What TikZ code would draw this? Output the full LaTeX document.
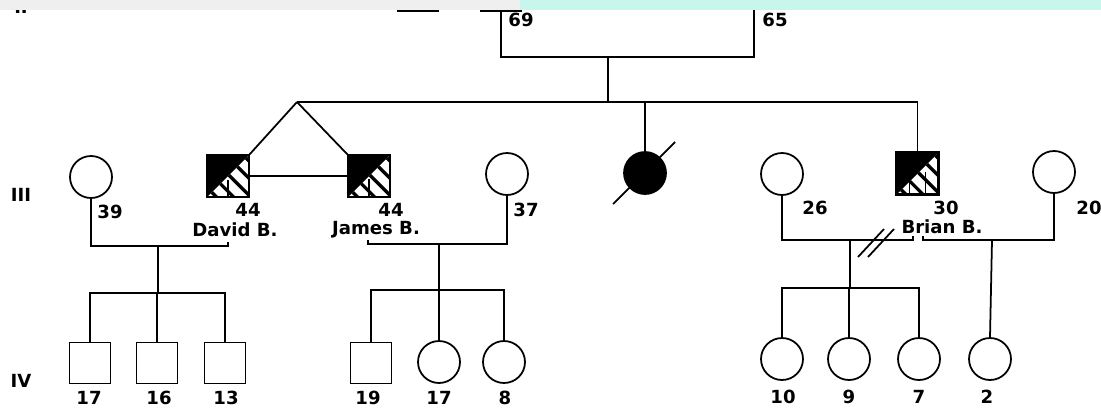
\documentclass[tikz,border=0pt]{standalone}
\usepackage{fontspec}
\setmainfont{DejaVu Sans}
\usetikzlibrary{calc}

\definecolor{bandgray}{RGB}{239,239,239}
\definecolor{bandcyan}{RGB}{200,245,236}

\tikzset{
  male/.style={draw, rectangle, minimum size=0.82cm, inner sep=0pt, line width=1pt},
  female/.style={draw, circle, minimum size=0.84cm, inner sep=0pt, line width=1pt},
  dead/.style={female, fill=black},
  age/.style={inner sep=0pt, font=\fontsize{10.3}{12}\selectfont\bfseries},
  gen/.style={inner sep=0pt, font=\fontsize{10.3}{12}\selectfont\bfseries},
  kin/.style={line width=1pt},
}

% half black, half hatched square (affected male)
\newcommand{\halfshade}[1]{%
  \fill (#1.north west) -- (#1.north east) -- (#1.south west) -- cycle;
  \begin{scope}
    \clip (#1.north east) -- (#1.south east) -- (#1.south west) -- cycle;
    \foreach \t in {0.12,0.32,0.52,0.72,0.92}
      \draw[line width=1.9pt] ($(#1.south west)!\t!(#1.north east)$) -- ++(40,40);
  \end{scope}
  \draw[line width=1pt] (#1.north west) rectangle (#1.south east);
}

\begin{document}
\begin{tikzpicture}[x=0.02cm,y=-0.02cm]
\useasboundingbox (0,0) rectangle (1101,409);
\clip (0,0) rectangle (1101,409);


%generation II (mostly cut off at the top)
\node[gen] (genII) at (21,7) {II};
\node[male] (sib2) at (418,-9.5) {};
\node[male] (p69) at (501,-9.5) {};
\coordinate (p65) at (754,0);
\node[age] (a69) at (521,20) {69};
\node[age] (a65) at (775,20) {65};

\coordinate (m2) at (608,57); %middle of marriage line
\draw[kin] (p69.south) |- (m2) -| (p65);


%generation III
\node[gen] (genIII) at (21,195) {III};

\node[female] (w39) at (91,177) {};
\node[male] (david) at (228,176) {};
\node[male] (james) at (369,176) {};
\node[female] (w37) at (507,174) {};
\node[dead] (dec) at (645,173) {};
\node[female] (w26) at (782,174) {};
\node[male] (brian) at (917.5,173.5) {};
\node[female] (w20) at (1054,172) {};

\halfshade{david}
\halfshade{james}
\halfshade{brian}

%sibship line with the twins
\coordinate (apex) at (297,102);
\draw[kin] (m2) -- (m2 |- apex);
\draw[kin] (apex) -| (brian.north);
\draw[kin] (dec.north |- apex) -- (dec.north);
\draw[kin] (apex) -- (david.north east);
\draw[kin] (apex) -- (james.north west);
\draw[kin] (david.east) -- (james.west); %twin bar

\draw[kin] (613,204) -- (675,142); %deceased

\node[age] (a39) at (110,212) {39};
\node[age] (a44d) at (248,210) {44};
\node[age] (ndavid) at (235,230) {David B.};
\node[age] (a44j) at (391,210) {44};
\node[age] (njames) at (376,230) {James B.};
\node[age] (a37) at (526,210) {37};
\node[age] (a26) at (815,208) {26};
\node[age] (a30) at (946,208) {30};
\node[age] (nbrian) at (942,227) {Brian B.};
\node[age] (a20) at (1089,208) {20};

%marriage lines
\draw[kin] (david.south) -- ++(0,-17);
\coordinate (md) at (158,246);
\draw[kin] (w39.south) |- (228,246) -- (228,242);

\draw[kin] (james.south) -- ++(0,-18);
\coordinate (mj) at (439,244);
\draw[kin] (368,240) -- (368,244) -| (w37.south);

\draw[kin] ([xshift=-4.5]brian.south) -- ++(0,-23);
\draw[kin] ([xshift=4.5]brian.south) -- ++(0,-23);
\coordinate (mb1) at (850,240);
\coordinate (mb2) at (992,240);
\draw[kin] (w26.south) |- (913,240) -- (913,236);
\draw[kin] (923,236) -- (923,240) -| (w20.south);
\draw[kin] (858,257) -- (884,229); %divorce
\draw[kin] (868,257) -- (894,229);


%generation IV
\node[gen] (genIV) at (21,381) {IV};

\node[male] (c1) at (90,363) {};
\node[male] (c2) at (157,363) {};
\node[male] (c3) at (225,363) {};
\node[male] (c4) at (371,363) {};
\node[female] (c5) at (439,362) {};
\node[female] (c6) at (504,362) {};
\node[female] (c7) at (782,359) {};
\node[female] (c8) at (849,359) {};
\node[female] (c9) at (919,359) {};
\node[female] (c10) at (990,359) {};

\draw[kin] (md) -- (158,293);
\draw[kin] (c1.north) |- (c3.north |- 0,293) -- (c3.north);
\draw[kin] (c2.north) -- (c2.north |- 0,293);

\draw[kin] (mj) -- (c5.north);
\draw[kin] (c4.north) |- (c6.north |- 0,290) -- (c6.north);

\draw[kin] (mb1) -- (850,288);
\draw[kin] (c7.north) |- (c9.north |- 0,288) -- (c9.north);
\draw[kin] (c8.north) -- (c8.north |- 0,288);

\draw[kin] (mb2) -- (c10.north);

\node[age] at (89,398) {17};
\node[age] at (159,398) {16};
\node[age] at (226,398) {13};
\node[age] at (368,398) {19};
\node[age] at (439,398) {17};
\node[age] at (505,398) {8};
\node[age] at (783,397) {10};
\node[age] at (849,397) {9};
\node[age] at (919,397) {7};
\node[age] at (987,397) {2};


%bands at the top
\fill[bandgray] (0,0) rectangle (520,10);
\fill[bandcyan] (520,0) rectangle (1101,10);

\end{tikzpicture}
\end{document}
